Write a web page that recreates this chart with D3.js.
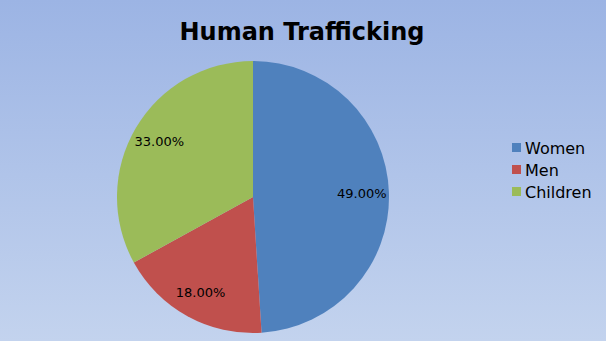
<!DOCTYPE html>
<html>
<head>
<meta charset="utf-8">
<script src="https://cdn.jsdelivr.net/npm/d3@7"></script>
<style>
  body { margin: 0; }
  svg { display: block; font-family: "DejaVu Sans", sans-serif; }
</style>
</head>
<body>
<svg id="chart" width="606" height="341"></svg>
<script>
const categories = ["Women", "Men", "Children"];
const shares = [49, 18, 33];
const colors = ["#4f81bd", "#c0504d", "#9bbb59"];

const width = 606, height = 341;
const cx = 253, cy = 197, radius = 136;

const svg = d3.select("#chart");

const defs = svg.append("defs");
const grad = defs.append("linearGradient")
  .attr("id", "bg")
  .attr("x1", 0).attr("y1", 0).attr("x2", 0).attr("y2", 1);
grad.append("stop").attr("offset", "0%").attr("stop-color", "#9cb4e4");
grad.append("stop").attr("offset", "100%").attr("stop-color", "#c3d3ee");

svg.append("rect")
  .attr("width", width)
  .attr("height", height)
  .attr("fill", "url(#bg)");

svg.append("text")
  .attr("x", 302)
  .attr("y", 40)
  .attr("text-anchor", "middle")
  .style("font-size", "24px")
  .style("font-weight", "bold")
  .text("Human Trafficking");

const data = categories.map((c, i) => ({ name: c, value: shares[i], color: colors[i] }));

const pie = d3.pie().value(d => d.value).sort(null);
const arc = d3.arc().innerRadius(0).outerRadius(radius);
const labelArc = d3.arc().innerRadius(radius * 0.8).outerRadius(radius * 0.8);

const g = svg.append("g").attr("transform", `translate(${cx},${cy})`);

const arcs = pie(data);

g.selectAll(".slice").data(arcs)
  .enter()
  .append("path")
  .classed("slice", true)
  .attr("d", arc)
  .attr("fill", d => d.data.color);

g.selectAll(".label").data(arcs)
  .enter()
  .append("text")
  .classed("label", true)
  .attr("transform", d => `translate(${labelArc.centroid(d)})`)
  .attr("text-anchor", "middle")
  .attr("dy", "0.35em")
  .style("font-size", "13px")
  .text(d => d3.format(".2f")(d.data.value) + "%");

const legend = svg.append("g").attr("transform", "translate(512,148)");

const items = legend.selectAll(".item").data(data)
  .enter()
  .append("g")
  .classed("item", true)
  .attr("transform", (d, i) => `translate(0,${i * 22})`);

items.append("rect")
  .attr("x", 0)
  .attr("y", -5)
  .attr("width", 9)
  .attr("height", 9)
  .attr("fill", d => d.color);

items.append("text")
  .attr("x", 13)
  .attr("y", 5.5)
  .style("font-size", "16px")
  .text(d => d.name);
</script>
</body>
</html>
